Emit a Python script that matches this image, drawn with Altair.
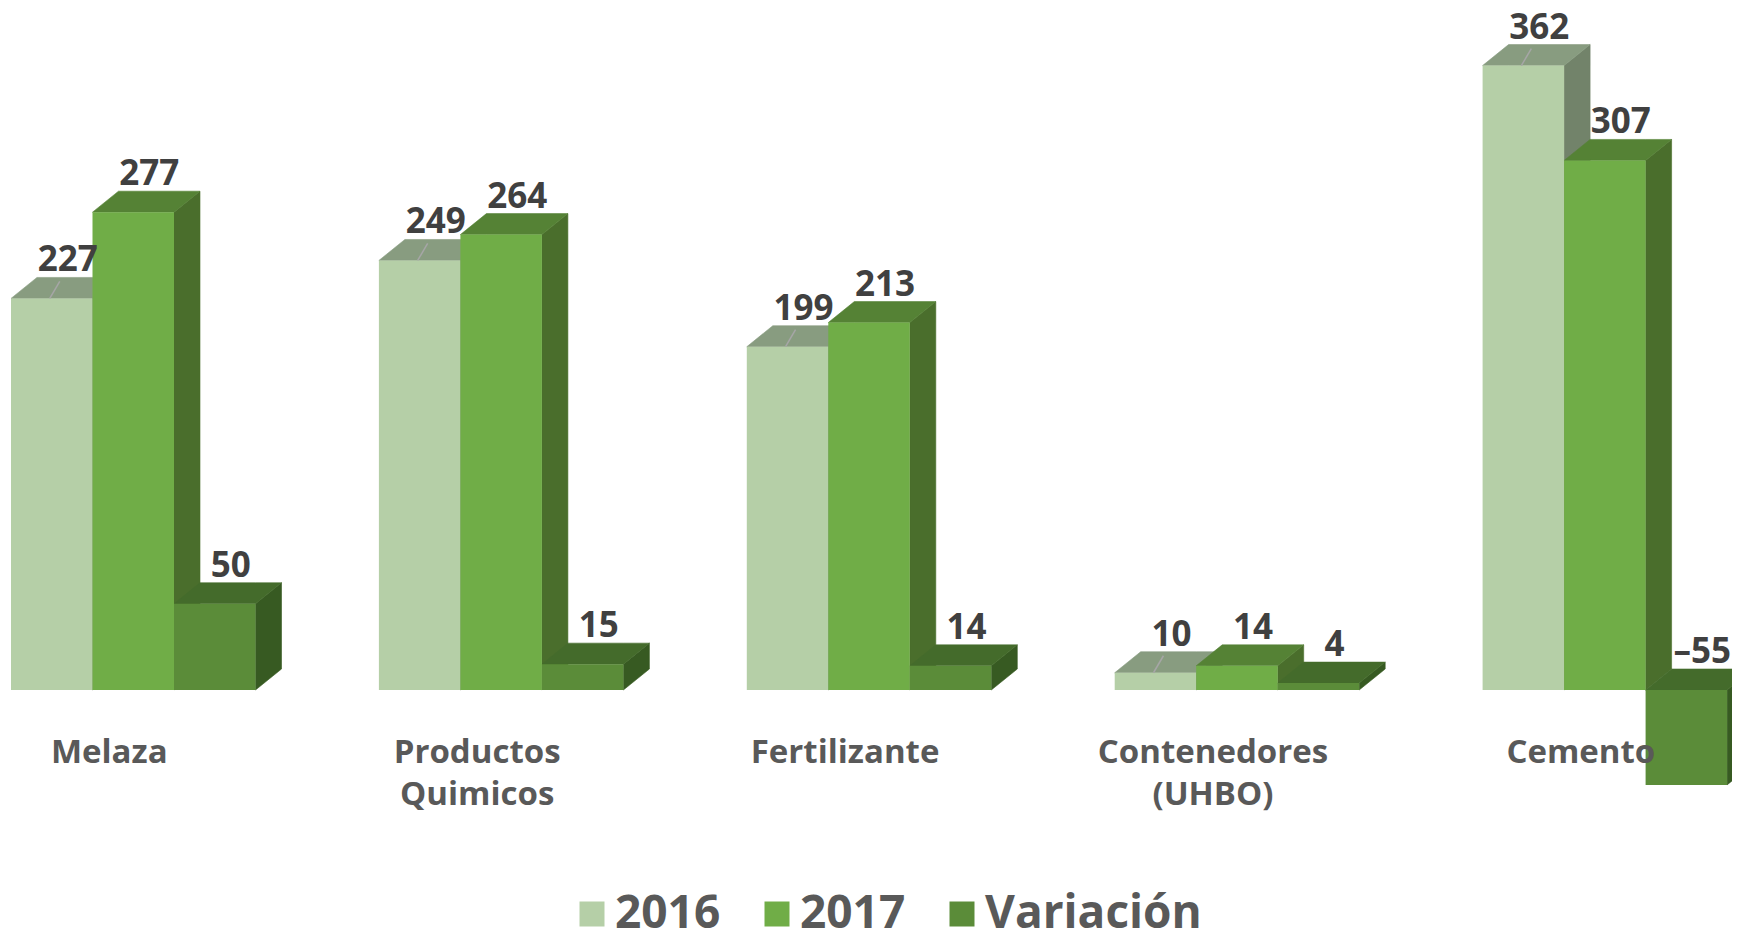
import altair as alt
import pandas as pd

# ---------------- data ----------------
categories = ["Melaza", "Productos Quimicos", "Fertilizante", "Contenedores (UHBO)", "Cemento"]
category_lines = ["Melaza", "Productos\nQuimicos", "Fertilizante", "Contenedores\n(UHBO)", "Cemento"]
series = ["2016", "2017", "Variación"]
v2016 = [227, 249, 199, 10, 362]
v2017 = [277, 264, 213, 14, 307]
variacion = [50, 15, 14, 4, -55]

# ---------------- styling / geometry ----------------
FRONT = {"2016": "#b5cfa7", "2017": "#70ad47", "Variación": "#5b8c39"}
TOP = {"2016": "#889c80", "2017": "#558235", "Variación": "#446b2b"}
SIDE = {"2016": "#72836a", "2017": "#4a6e2c", "Variación": "#375a22"}

W, H = 1724, 929
STEP_PX = 367.9          # px per category step
PX_PER_VAL = 1.725       # px per value unit
BASE_PAGE_Y = 690 - 8    # baseline position inside plot
X_ORIGIN_PX = 3          # first group start inside plot

BAR = 81.5 / STEP_PX
DX = 26 / STEP_PX
DY = 21 / PX_PER_VAL

x_dom = [-X_ORIGIN_PX / STEP_PX, (W - X_ORIGIN_PX) / STEP_PX]
y_dom = [-(H - BASE_PAGE_Y) / PX_PER_VAL, BASE_PAGE_Y / PX_PER_VAL]

values = {"2016": v2016, "2017": v2017, "Variación": variacion}

front_rows, side_rows, top_rows, label_rows, leader_rows, cat_rows = [], [], [], [], [], []
for g, cat in enumerate(categories):
    for s, name in enumerate(series):
        v = values[name][g]
        x0 = g + s * BAR
        x1 = x0 + BAR
        top = max(v, 0)
        bot = min(v, 0)
        key = f"{g}-{s}"
        front_rows.append(dict(x0=x0, x1=x1, y0=bot, y1=top, series=name))
        side_rows += [
            dict(key=key, x=x1, ya=top, yb=bot, col=SIDE[name]),
            dict(key=key, x=x1 + DX, ya=top + DY, yb=bot + DY, col=SIDE[name]),
        ]
        top_rows += [
            dict(key=key, x=x0, ya=top, yb=top, col=TOP[name]),
            dict(key=key, x=x0 + DX, ya=top + DY, yb=top, col=TOP[name]),
            dict(key=key, x=x1, ya=top + DY, yb=top, col=TOP[name]),
            dict(key=key, x=x1 + DX, ya=top + DY, yb=top + DY, col=TOP[name]),
        ]
        label_rows.append(dict(x=x0 + BAR / 2 + 16 / STEP_PX, y=top, text=f"{v}".replace("-", "–")))
        if name == "2016":
            leader_rows.append(dict(x=x0 + BAR / 2 - 2 / STEP_PX, x2=x0 + BAR / 2 + 8 / STEP_PX,
                                    y=top, y2=top + 17 / PX_PER_VAL))
    cat_rows.append(dict(x=g + 1.5 * BAR - 24 / STEP_PX, y=-(737 - 690) / PX_PER_VAL,
                         text=category_lines[g]))

front_df = pd.DataFrame(front_rows)
side_df = pd.DataFrame(side_rows)
top_df = pd.DataFrame(top_rows)
label_df = pd.DataFrame(label_rows)
leader_df = pd.DataFrame(leader_rows)
cat_df = pd.DataFrame(cat_rows)

xs = alt.Scale(domain=x_dom, nice=False, zero=False)
ys = alt.Scale(domain=y_dom, nice=False, zero=False)


def face(df):
    return alt.Chart(df).mark_area(interpolate="linear", strokeWidth=0.6).encode(
        x=alt.X("x:Q", scale=xs, axis=None),
        y=alt.Y("ya:Q", scale=ys, axis=None, stack=None),
        y2="yb:Q",
        detail="key:N",
        color=alt.Color("col:N", scale=None),
        stroke=alt.Stroke("col:N", scale=None),
    )


side = face(side_df)
topface = face(top_df)

front = alt.Chart(front_df).mark_rect().encode(
    x=alt.X("x0:Q", scale=xs, axis=None),
    x2="x1:Q",
    y=alt.Y("y0:Q", scale=ys, axis=None),
    y2="y1:Q",
    color=alt.Color(
        "series:N",
        scale=alt.Scale(domain=series, range=[FRONT[s] for s in series]),
        legend=alt.Legend(
            title=None, orient="none", direction="horizontal",
            legendX=561, legendY=883, symbolType="square", symbolSize=625,
            symbolStrokeWidth=0, labelFont="Open Sans", labelFontWeight="bold",
            labelFontSize=46, labelColor="#595959", labelOffset=0,
            columnPadding=33, padding=0, labelLimit=400,
        ),
    ),
)

leaders = alt.Chart(leader_df).mark_rule(color="#a6a6a6", strokeWidth=1.5).encode(
    x=alt.X("x:Q", scale=xs, axis=None), x2="x2:Q",
    y=alt.Y("y:Q", scale=ys, axis=None), y2="y2:Q",
)

labels = alt.Chart(label_df).mark_text(
    font="Open Sans", fontWeight="bold", fontSize=35, color="#404040",
    baseline="alphabetic", align="center", dy=-27,
).encode(
    x=alt.X("x:Q", scale=xs, axis=None),
    y=alt.Y("y:Q", scale=ys, axis=None),
    text="text:N",
)

cats = alt.Chart(cat_df).mark_text(
    font="Open Sans", fontWeight="bold", fontSize=33, color="#595959",
    baseline="top", align="center", lineBreak="\n", lineHeight=42,
).encode(
    x=alt.X("x:Q", scale=xs, axis=None),
    y=alt.Y("y:Q", scale=ys, axis=None),
    text="text:N",
)

chart = alt.layer(side, topface, front, leaders, labels, cats).properties(
    width=W, height=H, padding=0, autosize=alt.AutoSizeParams(type="none"),
    background="white",
).configure_view(stroke=None)

chart.save("out.html", embed_options={"renderer": "svg", "actions": False})
